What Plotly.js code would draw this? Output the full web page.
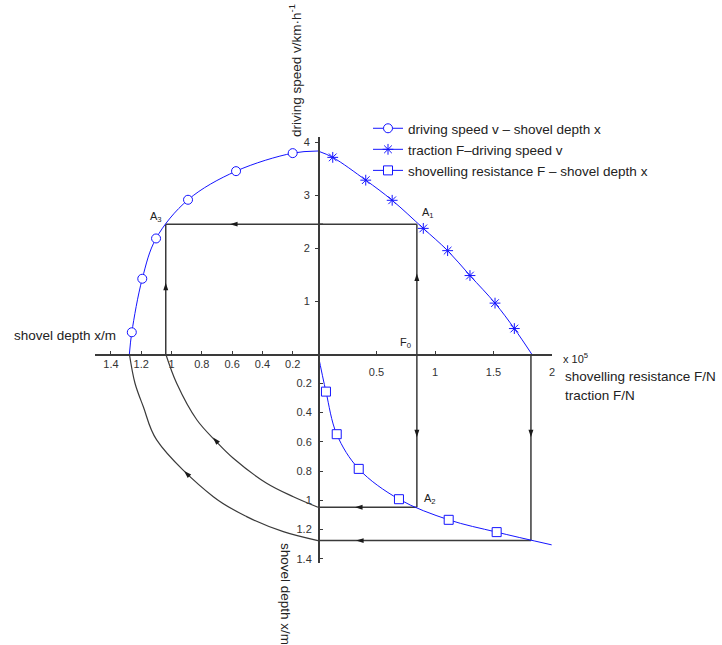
<!DOCTYPE html>
<html><head><meta charset="utf-8">
<script src="https://cdn.plot.ly/plotly-3.0.1.min.js"></script>
<style>html,body{margin:0;padding:0;background:#fff;}</style>
</head><body><div id="chart" style="width:722px;height:645px;"></div>
<script>
// ---- Data (units: F in 1e5 N, v in km/h, x in m) ----
// Quadrant II: driving speed v vs shovel depth x (first/last = ends on axes)
const circDepth = [1.278, 1.262, 1.193, 1.102, 0.891, 0.574, 0.200, 0.033];
const circSpeed = [0, 0.41, 1.42, 2.18, 2.91, 3.45, 3.79, 3.83];
// Quadrant I: traction F vs driving speed v
const starForce = [0, 0.126, 0.408, 0.634, 0.900, 1.108, 1.299, 1.513, 1.678, 1.826];
const starSpeed = [3.83, 3.71, 3.28, 2.90, 2.37, 1.95, 1.48, 0.96, 0.48, 0];
// Quadrant IV: shovelling resistance F vs shovel depth x
const sqForce = [0, 0.068, 0.160, 0.348, 0.692, 1.117, 1.527, 1.997];
const sqDepth = [0, 0.257, 0.548, 0.785, 0.992, 1.133, 1.217, 1.304];
// Quadrant III: depth transfer arcs
const innerArcL = [1.038, 0.966, 0.832, 0.702, 0.592, 0.372, 0.196, 0.033];
const innerArcD = [0, 0.200, 0.451, 0.601, 0.712, 0.883, 0.975, 1.047];
const outerArcL = [1.278, 1.241, 1.186, 1.098, 0.724, 0.504, 0.262, 0.033];
const outerArcD = [0, 0.200, 0.360, 0.587, 0.975, 1.111, 1.214, 1.275];
// Operating points
const speedA = 2.45;     // speed at A1 / A3
const forceF0 = 0.845;   // F0 (A1, A2)
const depthA2 = 1.047;   // depth at A2
const depthA3 = 1.038;   // depth at A3
const forceMax = 1.82;   // max traction
const depthMax = 1.275;  // depth at max traction
// Tick labels
const forceTicks = [0.5, 1, 1.5, 2];
const forceTickText = ['0.5', '1', '1.5', '2'];
const depthTicks = [0.2, 0.4, 0.6, 0.8, 1, 1.2, 1.4];
const depthTickText = ['0.2', '0.4', '0.6', '0.8', '1', '1.2', '1.4'];
const speedTicks = [1, 2, 3, 4];
const speedTickText = ['1', '2', '3', '4'];
const legendNames = ['driving speed v \u2013 shovel depth x', 'traction F\u2013driving speed v', 'shovelling resistance F \u2013 shovel depth x'];

// ---- Layout helpers ----
const W = 722, H = 645;
const px = v => v / W, py = v => 1 - v / H;
const BLUE = 'rgb(20,20,255)', DARK = '#3a3a3a';
const FONT = 'Arial, "Liberation Sans", sans-serif';

const traces = [];
function line(x, y, xa, ya, extra) {
  traces.push(Object.assign({x: x, y: y, xaxis: xa, yaxis: ya, type: 'scatter', mode: 'lines',
    line: {color: DARK, width: 1.5}, showlegend: false, hoverinfo: 'skip'}, extra || {}));
}
// black construction lines
line([depthA3, 0], [speedA, speedA], 'x2', 'y');
line([0, forceF0], [speedA, speedA], 'x', 'y');
line([depthA3, depthA3], [0, speedA], 'x2', 'y');
line([forceF0, forceF0], [0, speedA], 'x', 'y');
line([forceF0, forceF0], [0, depthA2], 'x', 'y2');
line([0, forceF0], [depthA2, depthA2], 'x', 'y2');
line([forceMax, forceMax], [0, depthMax], 'x', 'y2');
line([0, forceMax], [depthMax, depthMax], 'x', 'y2');
line(innerArcL, innerArcD, 'x2', 'y2', {line: {color: DARK, width: 1.2, shape: 'spline'}});
line(outerArcL, outerArcD, 'x2', 'y2', {line: {color: DARK, width: 1.2, shape: 'spline'}});

// arrowheads (tip at the data point)
function arrows(x, y, ang, xa, ya) {
  traces.push({x: x, y: y, xaxis: xa, yaxis: ya, type: 'scatter', mode: 'markers', cliponaxis: false,
    marker: {symbol: 'arrow', size: 8, angle: ang, color: '#1a1a1a', line: {width: 0}},
    showlegend: false, hoverinfo: 'skip'});
}
arrows([0.614, depthA3], [speedA, 1.345], [-90, 0], 'x2', 'y');
arrows([forceF0], [1.52], [0], 'x', 'y');
arrows([forceF0, forceMax, 0.316, 0.325], [0.569, 0.569, depthA2, depthMax], [180, 180, -90, -90], 'x', 'y2');
arrows([0.726, 0.917], [0.570, 0.799], [-42, -45], 'x2', 'y2');

// blue curves
function curve(x, y, xa, ya) {
  line(x, y, xa, ya, {line: {color: BLUE, width: 1, shape: 'spline'}});
}
curve(circDepth, circSpeed, 'x2', 'y');
curve(starForce, starSpeed, 'x', 'y');
curve(sqForce, sqDepth, 'x', 'y2');
function marks(x, y, xa, ya, sym, size, fill) {
  traces.push({x: x.slice(1, -1), y: y.slice(1, -1), xaxis: xa, yaxis: ya, type: 'scatter', mode: 'markers',
    cliponaxis: false, marker: {symbol: sym, size: size, color: fill, line: {color: BLUE, width: 1}},
    showlegend: false, hoverinfo: 'skip'});
}
marks(circDepth, circSpeed, 'x2', 'y', 'circle', 9, '#fff');
marks(starForce, starSpeed, 'x', 'y', 'asterisk-open', 9, BLUE);
marks(sqForce, sqDepth, 'x', 'y2', 'square', 9, '#fff');

// legend entries
const legSym = ['circle', 'asterisk-open', 'square'];
const legFill = ['#fff', BLUE, '#fff'];
legSym.forEach((s, i) => traces.push({x: [null], y: [null], type: 'scatter', mode: 'lines+markers',
  name: legendNames[i], legendgroup: 'g' + i,
  line: {color: BLUE, width: 1}, marker: {symbol: s, size: 9, color: legFill[i], line: {color: BLUE, width: 1}}}));

const axBase = {showgrid: false, zeroline: false, showline: true, linecolor: DARK, linewidth: 1.5,
  tickcolor: DARK, ticklen: 3, tickwidth: 1, tickmode: 'array', automargin: false, fixedrange: true,
  tickfont: {family: FONT, size: 11, color: '#333'}};
const O = {x: 318, y: 354};

const layout = {
  width: W, height: H, margin: {l: 0, r: 0, t: 0, b: 0, pad: 0}, autosize: false,
  paper_bgcolor: '#fff', plot_bgcolor: 'rgba(0,0,0,0)',
  font: {family: FONT, color: '#222'},
  xaxis: Object.assign({}, axBase, {domain: [px(O.x), px(552)], range: [0, 2], anchor: 'free', position: py(O.y),
    tickvals: forceTicks, ticktext: forceTickText, ticks: 'inside', ticklabelstandoff: 7}),
  xaxis2: Object.assign({}, axBase, {domain: [px(95), px(323)], range: [1.505, 0], anchor: 'free', position: py(O.y),
    tickvals: depthTicks, ticktext: depthTickText, ticks: 'inside', ticklabelstandoff: -1}),
  yaxis: Object.assign({}, axBase, {domain: [py(O.y), py(136.7)], range: [0, 4.10], anchor: 'free', position: px(O.x),
    tickvals: speedTicks, ticktext: speedTickText, ticks: 'outside', ticklabelstandoff: 3}),
  yaxis2: Object.assign({}, axBase, {domain: [py(563), py(O.y)], range: [1.428, 0], anchor: 'free', position: px(O.x),
    tickvals: depthTicks, ticktext: depthTickText, ticks: 'inside', ticklabelstandoff: 4}),
  showlegend: true,
  legend: {x: px(368), y: py(113), xanchor: 'left', yanchor: 'top', bgcolor: 'rgba(0,0,0,0)', borderwidth: 0,
    font: {family: FONT, size: 13.5, color: '#222'}, traceorder: 'grouped', tracegroupgap: 0.5, itemwidth: 30},
  annotations: [
    {text: 'driving speed v/km\u00b7h<sup>-1</sup>', textangle: -90, x: px(295), y: py(71)},
    {text: 'shovel depth x/m', x: px(64.5), y: py(335)},
    {text: 'x 10<sup>5</sup>', x: px(561), y: py(358), xanchor: 'left', font: {size: 11}},
    {text: 'shovelling resistance F/N', x: px(563), y: py(376), xanchor: 'left'},
    {text: 'traction F/N', x: px(563), y: py(395), xanchor: 'left'},
    {text: 'shovel depth x/m', textangle: 90, x: px(286), y: py(594)},
    {text: 'A<sub>3</sub>', x: px(156), y: py(217), font: {size: 11}},
    {text: 'A<sub>1</sub>', x: px(428), y: py(213), font: {size: 11}},
    {text: 'F<sub>0</sub>', x: px(406), y: py(343), font: {size: 11}},
    {text: 'A<sub>2</sub>', x: px(430), y: py(499), font: {size: 11}}
  ].map(a => Object.assign({xref: 'paper', yref: 'paper', showarrow: false, xanchor: 'center', yanchor: 'middle'},
    a, {font: Object.assign({family: FONT, size: 13.5, color: '#222'}, a.font || {})}))
};

Plotly.newPlot('chart', traces, layout, {staticPlot: true, displayModeBar: false});
</script>
</body></html>
